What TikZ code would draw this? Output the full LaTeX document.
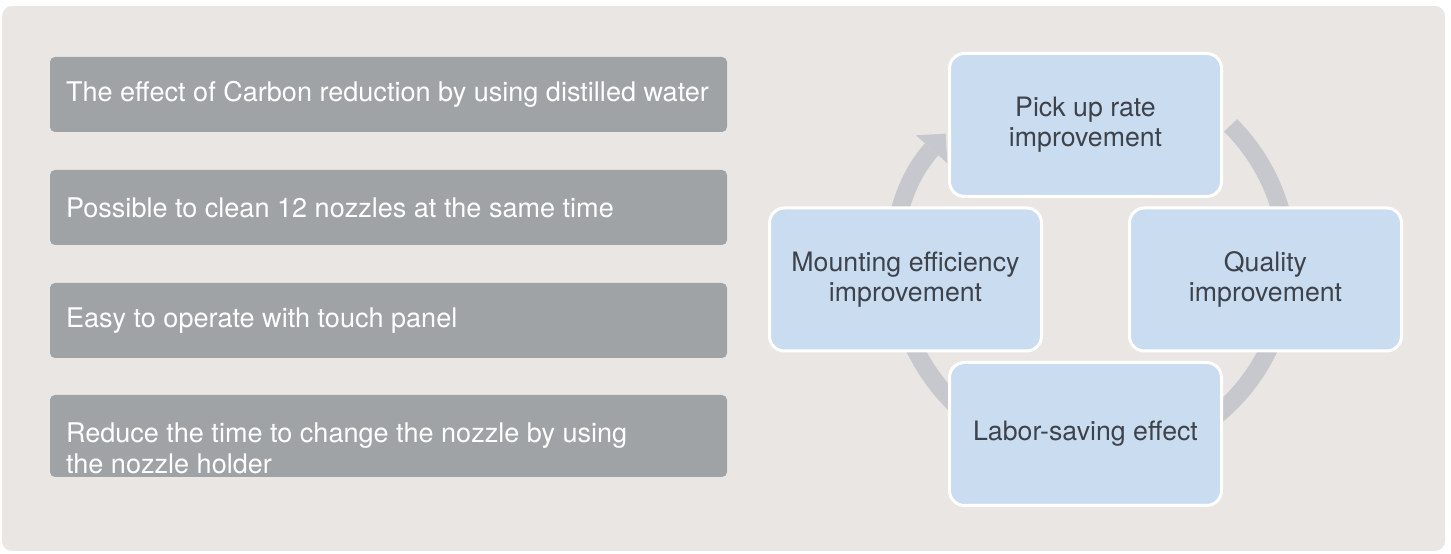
\documentclass[tikz,border=0pt]{standalone}
\usepackage{fontspec}
\setmainfont{TeX Gyre Heros}
\usetikzlibrary{arrows.meta}

\definecolor{panelgrey}{HTML}{EAE6E3}
\definecolor{itemgrey}{HTML}{A0A3A6}
\definecolor{cycleblue}{HTML}{CADCF0}
\definecolor{ringgrey}{HTML}{C7C8CD}
\definecolor{textdark}{HTML}{3E434B}
\newlength\px
\setlength\px{0.02cm}

\begin{document}
\begin{tikzpicture}[x=0.02cm,y=0.02cm,
    item/.style={fill=itemgrey, rounded corners=0.1cm, minimum width=677*\px, minimum height=75*\px, inner sep=0pt},
    itemtext/.style={text=white, anchor=west, align=left, inner sep=0pt, font=\fontsize{15.4}{17.5}\selectfont},
    stage/.style={fill=cycleblue, draw=white, line width=3*\px, rounded corners=0.3cm, minimum width=272*\px, minimum height=143*\px, align=center, text=textdark, font=\fontsize{15.2}{17.2}\selectfont},
    ring/.style={draw=ringgrey, line width=18*\px}]
        \useasboundingbox (0,0) rectangle (1451,554);
        \fill[panelgrey, rounded corners=0.2cm] (2,3) rectangle (1445,548);   % panel

        % left column
        \node[item] (i1) at (388.5,459.5) {};
        \node[item] (i2) at (388.5,346.5) {};
        \node[item] (i3) at (388.5,233.5) {};
        \node[item, minimum height=82*\px] (i4) at (388.5,118) {};
        \node[itemtext] (t1) at ([xshift=16*\px]i1.west) {The effect of Carbon reduction by using distilled water};
        \node[itemtext] (t2) at ([xshift=16*\px]i2.west) {Possible to clean 12 nozzles at the same time};
        \node[itemtext] (t3) at ([xshift=16*\px]i3.west) {Easy to operate with touch panel};
        \node[itemtext] (t4) at ([xshift=16*\px, yshift=-12*\px]i4.west) {Reduce the time to change the nozzle by using\\the nozzle holder};

        % cycle
        \coordinate (hub) at (1092,290);
        \draw[ring, -{Triangle[length=0.42cm 0 0, width=0.84cm 0 0, line width=0pt 0 0]}] (hub) ++(45:196*\px) arc[start angle=45, end angle=-221.7, radius=196*\px];
        \node[stage] (pick) at (1085.5,429) {Pick up rate\\improvement};
        \node[stage] (mount) at (905.5,274.5) {Mounting efficiency\\improvement};
        \node[stage] (quality) at (1265.5,274.5) {Quality\\improvement};
        \node[stage] (labor) at (1085.5,120) {Labor-saving effect};
\end{tikzpicture}
\end{document}
